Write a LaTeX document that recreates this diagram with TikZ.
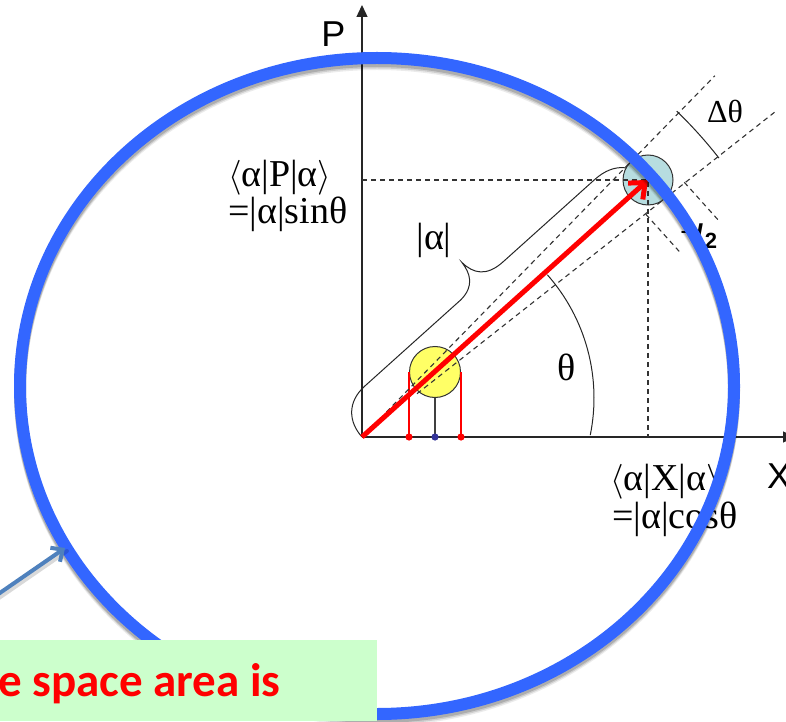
\documentclass[tikz,border=0pt]{standalone}
\usepackage{fontspec}
\setmainfont{Liberation Serif}
\setsansfont{Liberation Sans}
\newfontfamily\calib{Carlito}
\usetikzlibrary{arrows.meta,calc}
\definecolor{ringc}{HTML}{3366FF}
\definecolor{gboxc}{HTML}{CCFFCC}
\definecolor{ycirc}{HTML}{FFFF66}
\definecolor{bcirc}{HTML}{B7DDE0}
\definecolor{steel}{HTML}{4F81BD}
\definecolor{dotblue}{HTML}{333399}
\newcommand{\lbr}{\scalebox{1.4}{$\langle$}}
\newcommand{\rbr}{\scalebox{1.4}{$\rangle$}}
\begin{document}
\begin{tikzpicture}[x=1pt,y=1pt,
  lbl/.style={font=\fontsize{38}{38}\selectfont, inner sep=0pt, anchor=base west},
  dsh/.style={dash pattern=on 5pt off 4pt, line width=1.1pt, black!80},
  ax/.style={line width=1.4pt, black!85, -{Triangle[length=12pt,width=11pt]}},
  thin/.style={line width=1pt, black!85}]
\useasboundingbox (0,0) rectangle (786,721);
\coordinate (O) at (362,284);
\coordinate (T) at (648,541);
% axes
\coordinate (Xend) at (795,284);
\coordinate (Pend) at (362,716);
\draw[ax] (O) -- (Xend);
\draw[ax] (O) -- (Pend);
\node[font=\sffamily\fontsize{36}{36}\selectfont, inner sep=0pt] (plab) at (333.5,687) {P};
\node[font=\sffamily\fontsize{36}{36}\selectfont, inner sep=0pt] (xlab) at (779,245) {X};
% brace along the vector
\begin{scope}[shift={(O)}, rotate=41.94]
\draw[thin] (0,0) .. controls (0,20) and (12,36) .. (36,36) -- (165,36)
  .. controls (185,37) and (190,50) .. (191,63)
  .. controls (192,47) and (200,36) .. (222,36) -- (345,36)
  .. controls (372,36) and (384,20) .. (384,0);
\end{scope}
% circles
\node[circle, draw=black!80, line width=1pt, fill=bcirc, minimum size=50pt, inner sep=0pt] (bc) at (T) {};
\node[circle, draw=black!80, line width=1pt, fill=ycirc, minimum size=51pt, inner sep=0pt] (yc) at (435,349) {};
\draw[red, line width=1.2pt] (yc.west) -- (yc.west |- O);
\draw[red, line width=1.2pt] (yc.east) -- (yc.east |- O);
\draw[black!75, line width=1.2pt] (yc.south) -- (yc.south |- O);
\fill[red] (yc.west |- O) circle (3.6);
\fill[red] (yc.east |- O) circle (3.6);
\fill[dotblue] (yc.south |- O) circle (3.6);
% dashed guides
\draw[dsh] (O |- T) -- (T) -- (T |- O);
\begin{scope}[shift={(O)}, rotate=41.94]
\draw[dsh] (3.73:35) -- (3.73:505);
\draw[dsh] (-3.73:70) -- (-3.73:525);
\draw[dsh] (360,-24) -- (360,-75);
\draw[dsh] (410,-26) -- (410,-76);
\end{scope}
% angle arcs
\coordinate (thc) at (408,323);
\draw[thin] ($(thc)+(-11.5:186)$) arc[start angle=-11.5, end angle=41.5, radius=186];
\draw[thin] ($(O)+(38:453)$) arc[start angle=38, end angle=46, radius=453];
% labels
\node[lbl] (pexp) at (228,534) {\lbr α|P|α\rbr};
\node[lbl] (psin) at (228,497) {=|α|sinθ};
\node[lbl] (xexp) at (610,231) {\lbr α|X|α\rbr};
\node[lbl] (xcos) at (612,193) {=|α|cosθ};
\node[font=\fontsize{38}{38}\selectfont, inner sep=0pt, anchor=base] (alab) at (434,471) {|α|};
\node[font=\fontsize{38}{38}\selectfont, inner sep=0pt] (thlab) at (567,354) {θ};
\node[font=\fontsize{32}{32}\selectfont, inner sep=0pt] (dthlab) at (725,610) {Δθ};
\node[font=\sffamily\bfseries\fontsize{20}{20}\selectfont, inner sep=0pt] (hone) at (686,494) {1};
\node[font=\sffamily\bfseries\fontsize{30}{30}\selectfont, inner sep=0pt] (hslash) at (699,486) {/};
\node[font=\sffamily\bfseries\fontsize{22}{22}\selectfont, inner sep=0pt] (htwo) at (711,480) {2};
% red vector
\draw[red, line width=5pt, -{Straight Barb[length=13pt,width=22pt]}] (O) -- (T);
% big ring with soft shadow
\foreach \o/\op in {6/0.08,4.5/0.12,3/0.16}{
  \draw[black, opacity=\op, line width=12pt] (377,335-\o) ellipse [x radius=357, y radius=328];}
\draw[ringc, line width=12pt] (377,335) ellipse [x radius=357, y radius=328];
% note box
\fill[gboxc] (0,0) rectangle (377,81);
\node[anchor=base west, inner sep=0pt, text=red, font=\calib\bfseries\fontsize{47}{47}\selectfont] (note) at (-2,25) {e space area is};
% pointer arrow
\coordinate (pstart) at (-6,124);
\coordinate (ptip) at (65,173);
\draw[black, opacity=0.15, line width=4pt, line cap=round] ($(pstart)+(2,-3)$) -- ($(ptip)+(2,-3)$);
\draw[steel, line width=4pt, line cap=round, -{Straight Barb[length=9pt,width=17pt]}] (pstart) -- (ptip);
\end{tikzpicture}
\end{document}
